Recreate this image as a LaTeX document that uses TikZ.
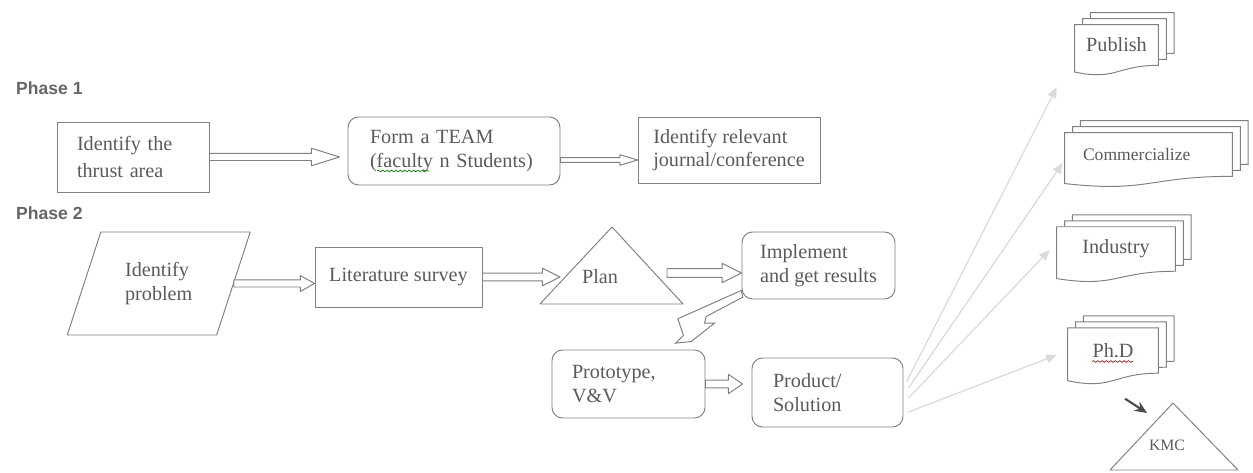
\documentclass[tikz,border=0pt]{standalone}
\usepackage{fontspec}
\setmainfont{Liberation Serif}
\newfontfamily\phasefont{Liberation Sans}
\usetikzlibrary{calc,shapes.geometric,arrows.meta,backgrounds,decorations.pathmorphing}

\definecolor{linegray}{RGB}{128,128,128}
\definecolor{textgray}{RGB}{90,90,90}
\definecolor{fangray}{RGB}{218,218,218}

% multi-document outline behind a named node
\newcommand{\docstack}[1]{%
  \foreach \k in {2,1,0}{%
    \draw[docline] let \p1=(#1.north west), \p2=(#1.south east) in
      ({\x1+\k*4.5pt},{\y1+\k*3.4pt}) -- ({\x2+\k*4.5pt},{\y1+\k*3.4pt})
      -- ({\x2+\k*4.5pt},{\y2+\k*3.4pt})
      .. controls ({0.5*(\x1+\x2)+\k*4.5pt},{\y2+\k*3.4pt}) and ({0.5*(\x1+\x2)+\k*4.5pt},{\y2-0.38*(\y1-\y2)+\k*3.4pt})
      .. ({\x1+\k*4.5pt},{\y2-0.165*(\y1-\y2)+\k*3.4pt}) -- cycle;
  }%
}

\tikzset{
  txt/.style={text=textgray, font=\fontsize{11.5}{13.5}\selectfont},
  gline/.style={draw=linegray, line width=0.55pt},
  box/.style={txt, gline, align=left, inner xsep=0.4cm},
  rbox/.style={box, rounded corners=6pt},
  para/.style={txt, gline, align=left, trapezium, trapezium left angle=67,
    trapezium right angle=113, trapezium stretches=true},
  doc/.style={txt, align=left, inner xsep=0.2cm},
  docline/.style={gline, fill=white},
  fat/.style n args={3}{gline, fill=white, to path={
    ($(\tikztostart)+(0,#1)$) -- ($(\tikztotarget)+(-#3,#1)$) -- ($(\tikztotarget)+(-#3,#2)$)
    -- (\tikztotarget) -- ($(\tikztotarget)+(-#3,-#2)$) -- ($(\tikztotarget)+(-#3,-#1)$)
    -- ($(\tikztostart)+(0,-#1)$) -- cycle}},
  fan/.style={draw=fangray, line width=0.7pt, -{Triangle[length=6pt,width=5pt]}},
  darkarr/.style={draw=black!70, line width=1.2pt, -{Stealth[length=7pt,width=6pt]}},
  phase/.style={anchor=west, text=black!60, font=\phasefont\bfseries\fontsize{10}{12}\selectfont},
  wavy/.style={decorate, decoration={snake, amplitude=0.5pt, segment length=2.5pt}, line width=0.4pt},
}

\begin{document}
\begin{tikzpicture}[line join=round]
\useasboundingbox (0,0) rectangle (25.06,9.44);

% Phase 1
\node[phase] (ph1) at (0.2,7.68) {Phase 1};
\node[box, minimum width=3.04cm, minimum height=1.4cm, text width=2.24cm,
  font=\fontsize{11.5}{15}\selectfont] (thrust) at (2.66,6.3) {Identify the\\thrust area};
\node[rbox, minimum width=4.24cm, minimum height=1.36cm, text width=3.36cm, inner xsep=0.44cm]
  (team) at (9.08,6.42) {Form a TEAM\\(faculty n Students)};
\node[box, minimum width=3.64cm, minimum height=1.32cm, inner xsep=0.2cm]
  (journal) at (14.58,6.44) {Identify relevant\\journal/conference};

\coordinate (t1) at ($(thrust.east -| team.west)+(-0.16,0)$);
\coordinate (s2) at ($(team.east)+(0,-0.18)$);
\coordinate (t2) at (s2 -| journal.west);
\draw[fat={2pt}{5pt}{16pt}] (thrust.east) to (t1);
\draw[fat={1.3pt}{3pt}{10pt}] (s2) to (t2);
\draw[wavy, green!50!black] ($(team)+(-1.54,-0.4)$) -- ($(team)+(-0.5,-0.4)$);

% Phase 2
\node[phase] (ph2) at (0.2,5.18) {Phase 2};
\node[para, minimum width=3.68cm, minimum height=2.06cm] (problem) at (3.175,3.77) {Identify\\problem};
\node[box, minimum width=3.34cm, minimum height=1.2cm, inner xsep=0.2cm] (lit) at (7.97,3.9) {Literature survey};
\node[txt] (plan) at (12.0,3.9) {Plan};
\draw[gline] ($(plan)+(0.24,1.0)$) -- ($(plan)+(-1.2,-0.54)$) -- ($(plan)+(1.66,-0.54)$) -- cycle;
\coordinate (planL) at (11.2,4.0);
\coordinate (planR) at (13.34,3.98);
\node[rbox, minimum width=3.06cm, minimum height=1.34cm, inner xsep=0.2cm]
  (impl) at (16.37,4.13) {Implement\\and get results};
\node[rbox, minimum width=3.06cm, minimum height=1.36cm, text width=2.26cm]
  (proto) at (12.57,1.76) {Prototype,\\V\&V};
\node[rbox, minimum width=3.02cm, minimum height=1.38cm, text width=2.18cm, inner xsep=0.42cm]
  (product) at (16.55,1.59) {Product/\\Solution};

\coordinate (t3) at (problem.east -| lit.west);
\coordinate (t4) at (lit.east -| planL);
\coordinate (t5) at (planR -| impl.west);
\coordinate (t7) at ($(proto.east -| product.west)+(-0.18,0)$);
\draw[fat={2pt}{4.5pt}{8pt}] (problem.east) to (t3);
\draw[fat={2.2pt}{5pt}{10pt}] (lit.east) to (t4);
\draw[fat={2.5pt}{5.5pt}{11pt}] (planR) to (t5);
\draw[fat={2.2pt}{5.5pt}{8pt}] (proto.east) to (t7);

% bent arrow down to the prototype
\begin{scope}[on background layer]
  \draw[gline, fill=white, shift={(impl.south west)}]
    (-0.006,0.18) -- (-1.274,-0.386) -- (-1.16,-0.72) -- (-1.32,-0.874) -- (-1.006,-0.84)
    -- (-0.54,-0.474) -- (-0.74,-0.474) -- (-0.706,-0.34) -- (0.026,0.046) -- cycle;
\end{scope}

% outcomes
\node[doc, minimum width=1.66cm, minimum height=0.8cm] (pub) at (22.33,8.54) {Publish};
\node[doc, minimum width=3.34cm, minimum height=0.86cm, text width=2.62cm, inner xsep=0.36cm,
  font=\fontsize{10}{12}\selectfont] (comm) at (22.97,6.35) {Commercialize};
\node[doc, minimum width=2.36cm, minimum height=0.876cm] (ind) at (22.32,4.46) {Industry};
\node[doc, minimum width=1.8cm, minimum height=0.894cm] (phd) at (22.26,2.43) {Ph.D};
\begin{scope}[on background layer]
  \docstack{pub}
  \docstack{comm}
  \docstack{ind}
  \docstack{phd}
\end{scope}
\draw[wavy, red!80!black] ($(phd)+(-0.42,-0.22)$) -- ($(phd)+(0.4,-0.22)$);

\draw[fan] ($(product.east)+(0.06,0.21)$) -- ($(pub.south west)+(-0.36,-0.44)$);
\draw[fan] ($(product.east)+(0.1,0.09)$) -- ($(comm.west)+(-0.04,-0.17)$);
\draw[fan] ($(product.east)+(0.1,-0.11)$) -- ($(ind.west)+(-0.14,-0.02)$);
\draw[fan] ($(product.east)+(0.1,-0.39)$) -- ($(phd.west)+(-0.22,-0.09)$);

\node[txt, font=\fontsize{9}{10}\selectfont] (kmc) at (23.34,0.54) {KMC};
\draw[gline] ($(kmc)+(0.12,0.84)$) -- ($(kmc)+(-1.14,-0.5)$) -- ($(kmc)+(1.42,-0.5)$) -- cycle;
\draw[darkarr] ($(phd.south)+(0.24,-0.51)$) -- ($(kmc)+(-0.4,0.64)$);
\end{tikzpicture}
\end{document}
